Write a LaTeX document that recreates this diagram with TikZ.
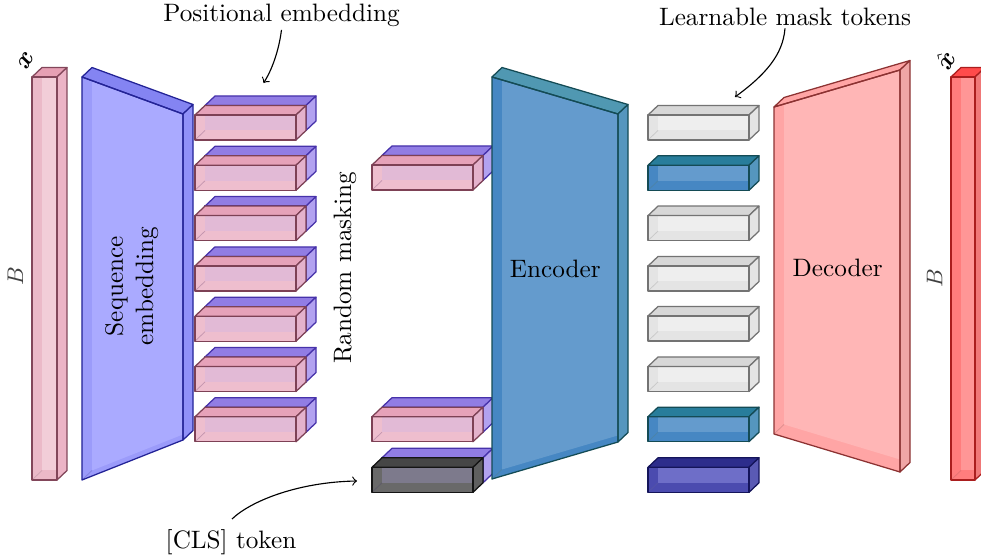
\documentclass[tikz,border=0pt]{standalone}
\usepackage{amsmath}
\usetikzlibrary{calc}
% x bar (pink)
\definecolor{xbfront}{RGB}{242,205,216}
\definecolor{xbstrip}{RGB}{235,185,200}
\definecolor{xbtop}{RGB}{230,160,180}
\definecolor{xbside}{RGB}{236,180,198}
\definecolor{xbedge}{RGB}{130,70,90}
% sequence embedding
\definecolor{sefront}{RGB}{170,170,255}
\definecolor{sestrip}{RGB}{155,155,250}
\definecolor{setop}{RGB}{132,132,242}
\definecolor{seside}{RGB}{145,145,248}
\definecolor{seedge}{RGB}{35,35,150}
% pink token
\definecolor{ptfront}{RGB}{226,186,214}
\definecolor{ptstrip}{RGB}{238,190,206}
\definecolor{pttop}{RGB}{230,162,185}
\definecolor{ptside}{RGB}{228,178,204}
\definecolor{ptedge}{RGB}{125,65,85}
% purple positional embedding
\definecolor{pufront}{RGB}{175,160,240}
\definecolor{pustrip}{RGB}{175,160,240}
\definecolor{putop}{RGB}{145,125,228}
\definecolor{puside}{RGB}{178,162,240}
\definecolor{puedge}{RGB}{70,50,170}
% CLS token
\definecolor{clfront}{RGB}{125,122,140}
\definecolor{clstrip}{RGB}{105,105,105}
\definecolor{cltop}{RGB}{70,70,70}
\definecolor{clside}{RGB}{95,95,95}
\definecolor{cledge}{RGB}{20,20,20}
% encoder
\definecolor{enfront}{RGB}{100,155,205}
\definecolor{enstrip}{RGB}{70,135,195}
\definecolor{entop}{RGB}{80,152,178}
\definecolor{enside}{RGB}{85,150,190}
\definecolor{enedge}{RGB}{20,75,85}
% blue token
\definecolor{btfront}{RGB}{100,155,205}
\definecolor{btstrip}{RGB}{70,135,195}
\definecolor{bttop}{RGB}{40,125,155}
\definecolor{btside}{RGB}{85,150,190}
\definecolor{btedge}{RGB}{20,75,85}
% gray token
\definecolor{grfront}{RGB}{238,238,238}
\definecolor{grstrip}{RGB}{228,228,228}
\definecolor{grtop}{RGB}{215,215,215}
\definecolor{grside}{RGB}{228,228,228}
\definecolor{gredge}{RGB}{115,115,115}
% dark blue token
\definecolor{dbfront}{RGB}{110,110,200}
\definecolor{dbstrip}{RGB}{75,75,175}
\definecolor{dbtop}{RGB}{45,45,140}
\definecolor{dbside}{RGB}{90,90,180}
\definecolor{dbedge}{RGB}{20,20,90}
% decoder
\definecolor{defront}{RGB}{255,182,182}
\definecolor{destrip}{RGB}{255,165,165}
\definecolor{detop}{RGB}{255,165,165}
\definecolor{deside}{RGB}{240,165,165}
\definecolor{deedge}{RGB}{140,50,50}
% x hat bar
\definecolor{xhfront}{RGB}{255,150,150}
\definecolor{xhstrip}{RGB}{255,125,125}
\definecolor{xhtop}{RGB}{255,75,75}
\definecolor{xhside}{RGB}{240,120,120}
\definecolor{xhedge}{RGB}{170,30,30}

\newcommand\sdx{10}
\newcommand\sdy{-9.5}
% #1 colour set, #2 TL, #3 TR, #4 BR, #5 BL of the front face
\newcommand\slab[5]{%
  \fill[#1strip] (#2) -- (#3) -- (#4) -- (#5) -- cycle;
  \begin{scope}
    \clip (#2) -- (#3) -- (#4) -- (#5) -- cycle;
    \fill[#1front] ($(#2)+(\sdx,\sdy)$) -- ($(#3)+(\sdx,\sdy)$) -- ($(#4)+(\sdx,\sdy)$) -- ($(#5)+(\sdx,\sdy)$) -- cycle;
  \end{scope}
  \draw[#1edge!30!#1front, line width=0.3pt] (#5) -- ($(#5)+(\sdx,\sdy)$);
  \filldraw[fill=#1top, draw=#1edge, edgeline] (#2) -- (#3) -- ($(#3)+(\sdx,\sdy)$) -- ($(#2)+(\sdx,\sdy)$) -- cycle;
  \filldraw[fill=#1side, draw=#1edge, edgeline] (#3) -- (#4) -- ($(#4)+(\sdx,\sdy)$) -- ($(#3)+(\sdx,\sdy)$) -- cycle;
  \draw[#1edge, edgeline] (#2) -- (#3) -- (#4) -- (#5) -- cycle;
}
% token box: #1 colour set, #2 left x, #3 top y
\newcommand\tokbox[3]{\slab{#1}{#2,#3}{#2+101,#3}{#2+101,#3+25}{#2,#3+25}}

\begin{document}
\begin{tikzpicture}[x=0.397pt,y=-0.397pt,
  edgeline/.style={line width=0.5pt, line join=round},
  lbl/.style={inner sep=1pt},
  dimlbl/.style={inner sep=1pt, rotate=90, font=\small, text=black!75},
  conn/.style={->, line width=0.45pt}]
\clip (0,0) rectangle (981,560);

% input bar x
\slab{xb}{32,77}{57,77}{57,480}{32,480}
\node[lbl, rotate=60] (xlbl) at (26,61) {$\boldsymbol{x}$};
\node[dimlbl] (blft) at (15.5,276) {$B$};

% sequence embedding
\slab{se}{82,77}{183,114}{183,440}{82,480}
\node[lbl, rotate=90, align=center] (seqemb) at (131.7,286) {Sequence\\embedding};

% embedded tokens with positional embedding
\foreach \k in {0,...,6}{
  \pgfmathsetmacro\ty{115+50.3*\k}
  \tokbox{pu}{205}{\ty-9.5}
  \tokbox{pt}{195}{\ty}
}

% random masking
\node[lbl, rotate=90] (rmask) at (345,268) {Random masking};
\tokbox{pu}{382}{165-9.5}
\tokbox{pt}{372}{165}
\tokbox{pu}{382}{416.7-9.5}
\tokbox{pt}{372}{416.7}
\tokbox{pu}{382}{467.3-9.5}
\tokbox{cl}{372}{467.3}

% encoder
\slab{en}{492,77}{618,114}{618,442}{492,479}
\node[lbl] (enc) at (555.3,269) {Encoder};

% tokens after encoder + mask tokens
\tokbox{gr}{648}{115}
\tokbox{bt}{648}{165.3}
\tokbox{gr}{648}{215.6}
\tokbox{gr}{648}{266}
\tokbox{gr}{648}{316}
\tokbox{gr}{648}{366.5}
\tokbox{bt}{648}{416.7}
\tokbox{db}{648}{467.3}

% decoder
\slab{de}{774,107}{900,70}{900,472}{774,434}
\node[lbl] (dec) at (837.7,268) {Decoder};

% output bar x hat
\slab{xh}{951,77}{975,77}{975,480}{951,480}
\node[lbl, rotate=60] (xhlbl) at (945,60) {$\hat{\boldsymbol{x}}$};
\node[dimlbl] (brgt) at (934.7,278) {$B$};

% annotations
\node[lbl] (posemb) at (281.5,15.5) {Positional embedding};
\coordinate (posembtip) at (263.5,83);
\draw[conn] (posemb.south) .. controls (279,50) and (272,70) .. (posembtip);

\node[lbl] (lmt) at (785,16.5) {Learnable mask tokens};
\coordinate (lmttip) at (735,97);
\draw[conn] (lmt.south) .. controls (783,55) and (765,75) .. (lmttip);

\node[lbl] (cls) at (231,542.7) {[CLS] token};
\coordinate (clsstart) at (232,519);
\coordinate (clstip) at (357,481);
\draw[conn] (clsstart) .. controls (252,500) and (300,482) .. (clstip);
\end{tikzpicture}
\end{document}
